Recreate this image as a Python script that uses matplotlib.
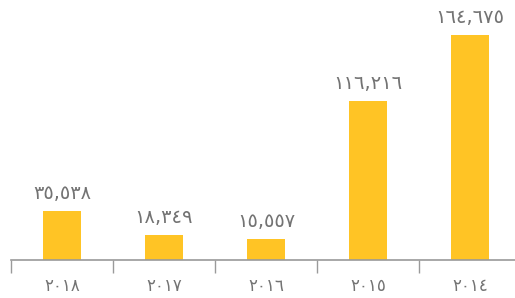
import matplotlib
matplotlib.use('Agg')
import matplotlib.pyplot as plt
import numpy as np

years = ['2018', '2017', '2016', '2015', '2014']
values = [35538, 18349, 15557, 116216, 164675]

ar_digits = str.maketrans('0123456789', '٠١٢٣٤٥٦٧٨٩')

def to_ar(s):
    return s.translate(ar_digits)

bar_color = '#FFC425'
text_color = '#737373'
axis_color = '#9a9a9a'

plt.rcParams['font.family'] = ['DejaVu Sans']

fig = plt.figure(figsize=(5.15, 2.98), dpi=100)
# axis runs slightly past the right edge of the picture
ax = fig.add_axes([11 / 515, 38 / 298, 510 / 515, 260 / 298])

x = np.arange(len(years))
ax.bar(x, values, width=0.38, color=bar_color)

for xi, v in zip(x, values):
    ax.text(xi, v + 6000, to_ar(f'{v:,}'), ha='center', va='bottom',
            fontsize=14, color=text_color)

ax.set_xlim(-0.5, len(years) - 0.5)
ax.set_ylim(0, 190500)
ax.set_yticks([])

ax.set_xticks(x)
ax.set_xticklabels([to_ar(y) for y in years], fontsize=12, color=text_color)
ax.tick_params(axis='x', which='major', length=0, pad=12)
ax.set_xticks(np.arange(len(years)) - 0.5, minor=True)
ax.tick_params(axis='x', which='minor', length=9, color=axis_color, width=1)

for side in ['top', 'right', 'left']:
    ax.spines[side].set_visible(False)
ax.spines['bottom'].set_color(axis_color)
ax.spines['bottom'].set_linewidth(1.2)

fig.savefig('out.png', dpi=100)
